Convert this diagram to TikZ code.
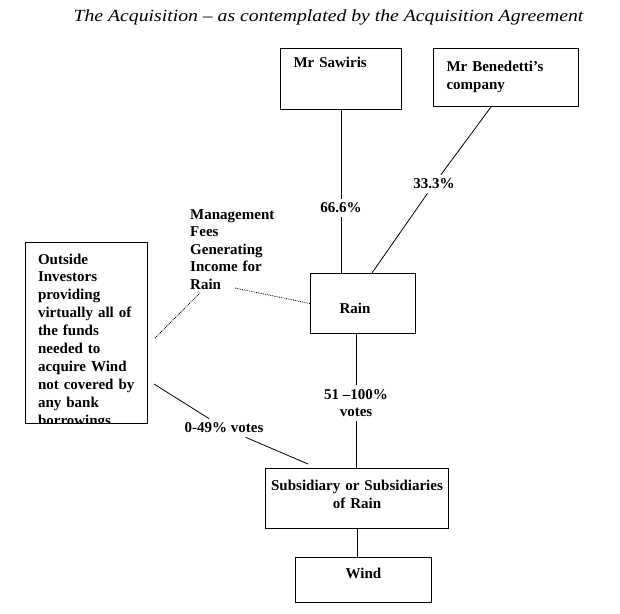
\documentclass[tikz,border=0pt]{standalone}
\usepackage{fontspec}
\setmainfont{Liberation Serif}
\newfontfamily\titlefont{Liberation Serif}[Ligatures=TeX,FakeStretch=1.16]
\newcommand{\boxfont}{\fontsize{15}{17.5}\selectfont}
\tikzstyle{party}=[rectangle,draw,line width=1pt,anchor=north west,align=left,
                   font=\bfseries\boxfont,inner xsep=13pt]
\tikzstyle{share}=[font=\bfseries\boxfont,inner sep=4pt,align=center]
\tikzstyle{link}=[line width=0.8pt]
\tikzstyle{hint}=[densely dotted,line width=0.8pt]

\begin{document}
\begin{tikzpicture}[x=1pt,y=-1pt]
  \useasboundingbox (0,0) rectangle (620,613);
  \node[anchor=base,font=\titlefont\itshape\fontsize{17}{20}\selectfont] (title) at (328.5,21)
    {The Acquisition – as contemplated by the Acquisition Agreement};
  % owners
  \node[party,text width=95pt,text height=10pt,text depth=33pt,inner ysep=9pt] (saw) at (280,48) {Mr Sawiris};
  \node[party,text width=119pt,text height=10pt,text depth=22pt,inner ysep=13pt] (ben) at (433,48) {Mr Benedetti’s\\company};
  \node[party,text width=47pt,inner xsep=29pt,text height=20pt,text depth=0pt,inner ysep=20pt] (rain) at (310,273) {Rain};
  \node[draw,line width=1pt,anchor=north west,minimum width=122pt,minimum height=181pt,inner sep=0pt,
        path picture={\node[anchor=base west,inner sep=0pt,text width=110pt,align=left,
                            font=\bfseries\fontsize{15}{17.9}\selectfont]
          at ([xshift=6pt,yshift=-21.5pt]path picture bounding box.north west)
          {Outside\\Investors\\providing\\virtually all of\\the funds\\needed to\\acquire Wind\\not covered by\\any bank\\borrowings};}] (inv) at (25,242) {};
  \node[anchor=base west,inner sep=0pt,text width=90pt,align=left,font=\bfseries\boxfont] (mgmt) at (190,219)
    {Management\\Fees\\Generating\\Income for\\Rain};
  % acquisition vehicle
  \node[party,align=center,text width=177pt,inner xsep=3pt,text height=11pt,text depth=27pt,inner ysep=11pt] (sub) at (265,468) {Subsidiary or Subsidiaries\\of Rain};
  \node[party,align=center,text width=120pt,inner xsep=8pt,text height=11pt,text depth=14pt,inner ysep=10pt] (wind) at (295,557) {Wind};
  % stakes
  \node[share] (p666) at (341,208) {66.6\%};
  \node[share] (p333) at (434,184) {33.3\%};
  \node[share] (p51) at (356,403) {51 \textendash100\%\\votes};
  \node[share] (p049) at (224,428) {0-49\% votes};
  \coordinate (inv-v) at (154,384);
  \coordinate (sub-v) at (308,464);
  \coordinate (inv-m) at (155,338);
  \coordinate (mgmt-i) at (200,293);
  \coordinate (mgmt-r) at (235,288);
  \draw[link] (saw.south) -- (p666);
  \draw[link] (p666) -- (p666 |- rain.north);
  \draw[link] ([xshift=-15pt]ben.south) -- (p333);
  \draw[link] (p333) -- ([xshift=9pt]rain.north);
  \draw[link] (p51 |- rain.south) -- (p51);
  \draw[link] (p51) -- (p51 |- sub.north);
  \draw[link] (inv-v) -- (p049);
  \draw[link] (p049) -- (sub-v);
  \draw[link] (sub.south) -- (sub.south |- wind.north);
  \draw[hint] (inv-m) -- (mgmt-i);
  \draw[hint] (mgmt-r) -- (rain.west);
\end{tikzpicture}
\end{document}
